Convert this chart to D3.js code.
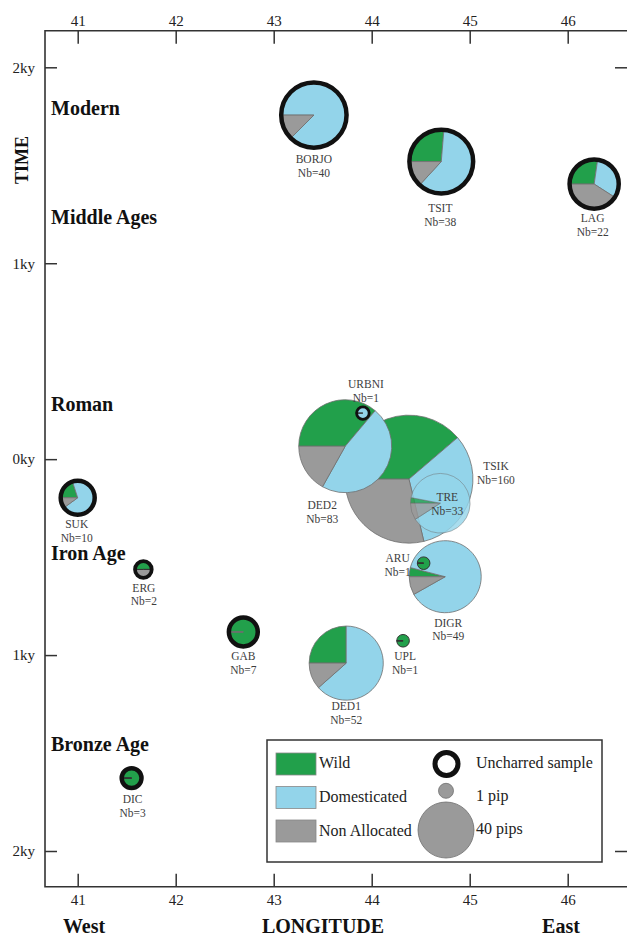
<!DOCTYPE html>
<html><head><meta charset="utf-8">
<script src="https://cdn.jsdelivr.net/npm/d3@7"></script>
<style>body{margin:0;background:#fff} svg{display:block} text{font-family:'Liberation Serif','Times New Roman',serif}</style>
</head><body><svg id="c" width="627" height="938"></svg>
<script>
// ---- data ----
const sites        = ["BORJO","TSIT","LAG","TSIK","TRE","DED2","URBNI","DIGR","ARU","UPL","DED1","SUK","ERG","GAB","DIC"];
const longitude    = [43.41, 44.71, 46.27, 44.38, 44.70, 43.73, 43.91, 44.75, 44.53, 44.32, 43.74, 41.00, 41.67, 42.69, 41.55];
const year         = [1756, 1519, 1404, -102, -225, 66, 235, -600, -531, -927, -1041, -197, -563, -882, -1628];
const wild         = [0, 10, 6, 62, 1, 30, 0, 2, 1, 1, 13, 2, 1, 7, 3];
const domesticated = [35, 23, 7, 52, 29, 39, 1, 43, 0, 0, 33, 7, 0, 0, 0];
const nonAllocated = [5, 5, 9, 46, 3, 14, 0, 4, 0, 0, 6, 1, 1, 0, 0];
const uncharred    = [true, true, true, false, false, false, true, false, false, false, false, true, true, true, true];
const categories   = ["Wild", "Domesticated", "Non Allocated"];
const eras         = ["Modern", "Middle Ages", "Roman", "Iron Age", "Bronze Age"];
const eraYear      = [1756, 1200, 245, -516, -1490];
const lonTicks     = [41, 42, 43, 44, 45, 46];
const yearTicks    = [2000, 1000, 0, -1000, -2000];
const legendPips   = [1, 40];

// label placement (offset of first line from pie centre)
const labelOffset = {BORJO:[0,48], TSIT:[-1,50.5], LAG:[-1.5,38], TSIK:[87,-9], TRE:[7,-2], DED2:[-23,63],
  URBNI:[3,-25], DIGR:[3,50], ARU:[-26,-1], UPL:[2,19.5], DED1:[0,47], SUK:[-1,30.5], ERG:[0.5,22.4], GAB:[0,28.3], DIC:[1,25]};

const colors = ["#22a04b", "#93d4ea", "#9a9a9a"];
const serif = "'Liberation Serif','Times New Roman',serif";

const svg = d3.select("#c");
const L = 45, R = 628, T = 30.7, B = 886.7;

const x = d3.scaleLinear().domain([41, 46]).range([77.7, 567.7]);
const y = d3.scaleLinear().domain([2000, -2000]).range([67.3, 851]);
const rScale = d3.scaleSqrt().domain([1, 160]).range([6.3, 64]);

// ---- axes ----
function styleAxis(g){
  g.attr("font-family",serif).attr("font-size",15);
  g.select(".domain").remove();
  g.selectAll("line").attr("stroke","#333").attr("stroke-width",1.5);
  g.selectAll("text").attr("font-family",serif).attr("font-size",15).attr("fill","#222");
}
svg.append("g").attr("transform",`translate(0,${T})`)
  .call(d3.axisTop(x).tickValues(lonTicks).tickFormat(d3.format("d")).tickSize(-13).tickSizeOuter(0).tickPadding(5)).call(styleAxis);
svg.append("g").attr("transform",`translate(0,${B})`)
  .call(d3.axisBottom(x).tickValues(lonTicks).tickFormat(d3.format("d")).tickSize(-13).tickSizeOuter(0).tickPadding(8)).call(styleAxis);
svg.append("g").attr("transform",`translate(${L},0)`)
  .call(d3.axisLeft(y).tickValues(yearTicks).tickFormat(d=>Math.abs(d/1000)+"ky").tickSize(-12).tickSizeOuter(0).tickPadding(10)).call(styleAxis);
svg.append("g").attr("transform",`translate(${R},0)`)
  .call(d3.axisRight(y).tickValues([2000,-2000]).tickFormat("").tickSize(-13).tickSizeOuter(0)).call(styleAxis);

// frame
svg.append("path").attr("d",`M${R+5},${T}H${L}V${B}H${R+5}`).attr("fill","none").attr("stroke","#333").attr("stroke-width",1.6);

// axis titles
svg.append("text").attr("transform","translate(28,160) rotate(-90)").attr("text-anchor","middle")
  .attr("font-family",serif).attr("font-weight","bold").attr("font-size",18).attr("fill","#111").text("TIME");
[["West",84],["LONGITUDE",323],["East",561]].forEach(([t,cx])=>{
  svg.append("text").attr("x",cx).attr("y",933).attr("text-anchor","middle")
    .attr("font-family",serif).attr("font-weight","bold").attr("font-size",20).attr("fill","#111").text(t);
});

// eras
svg.append("g").selectAll("text").data(eras).join("text")
  .attr("x",51).attr("y",(d,i)=>y(eraYear[i]))
  .attr("font-family",serif).attr("font-weight","bold").attr("font-size",20).attr("fill","#111").text(d=>d);

// ---- pies ----
const pie = d3.pie().sort(null).startAngle(-Math.PI/2).endAngle(3*Math.PI/2);
const arc = d3.arc().innerRadius(0);
const pies = svg.append("g");
sites.forEach((s,i)=>{
  const n = wild[i]+domesticated[i]+nonAllocated[i];
  const r = rScale(n);
  const g = pies.append("g").attr("transform",`translate(${x(longitude[i])},${y(year[i])})`);
  const arcs = pie([wild[i], domesticated[i], nonAllocated[i]]);
  g.selectAll("path").data(arcs).join("path")
    .attr("d", d=>arc.outerRadius(r)(d))
    .attr("fill",(d,k)=>colors[k])
    .attr("fill-opacity", s==="TRE"?0.8:1)
    .attr("stroke", n<=3 ? "#333" : "#6e6e6e")
    .attr("stroke-opacity", s==="TRE"?0.6:1)
    .attr("stroke-width", n<=3 ? 1 : 0.8);
  if (uncharred[i]) {
    g.append("circle").attr("r",r).attr("fill","none").attr("stroke","#111").attr("stroke-width",Math.min(4.5, r*0.45));
  }
});

// labels
const labels = svg.append("g").attr("font-family",serif).attr("font-size",11.5).attr("fill","#3d3d3d").attr("text-anchor","middle");
sites.forEach((s,i)=>{
  const n = wild[i]+domesticated[i]+nonAllocated[i];
  const cx = x(longitude[i]) + labelOffset[s][0], cy = y(year[i]) + labelOffset[s][1];
  labels.append("text").attr("x",cx).attr("y",cy).text(s);
  labels.append("text").attr("x",cx).attr("y",cy+13.5).text("Nb="+n);
});

// ---- legend ----
const lg = svg.append("g");
lg.append("rect").attr("x",267).attr("y",740).attr("width",335).attr("height",122)
  .attr("fill","#fff").attr("stroke","#333").attr("stroke-width",1.5);
categories.forEach((c,k)=>{
  lg.append("rect").attr("x",276).attr("y",753+k*33.5).attr("width",40).attr("height",22)
    .attr("fill",colors[k]).attr("stroke","#888").attr("stroke-width",0.8);
  lg.append("text").attr("x",319).attr("y",768+k*34).attr("font-family",serif).attr("font-size",16).attr("fill","#222").text(c);
});
const lScale = d3.scaleLinear().domain([1,40]).range([7.5,28]);
lg.append("circle").attr("cx",446.5).attr("cy",764).attr("r",11.5).attr("fill","#fff").attr("stroke","#111").attr("stroke-width",5);
lg.append("text").attr("x",476).attr("y",768).attr("font-family",serif).attr("font-size",16).attr("fill","#222").text("Uncharred sample");
const pipY = [790.8, 830];
legendPips.forEach((p,k)=>{
  lg.append("circle").attr("cx",446).attr("cy",pipY[k]).attr("r",lScale(p)).attr("fill","#9a9a9a").attr("stroke","#6e6e6e").attr("stroke-width",0.8);
  lg.append("text").attr("x",476).attr("y",k===0?801:834).attr("font-family",serif).attr("font-size",16).attr("fill","#222")
    .text(p+(p===1?" pip":" pips"));
});
</script></body></html>
